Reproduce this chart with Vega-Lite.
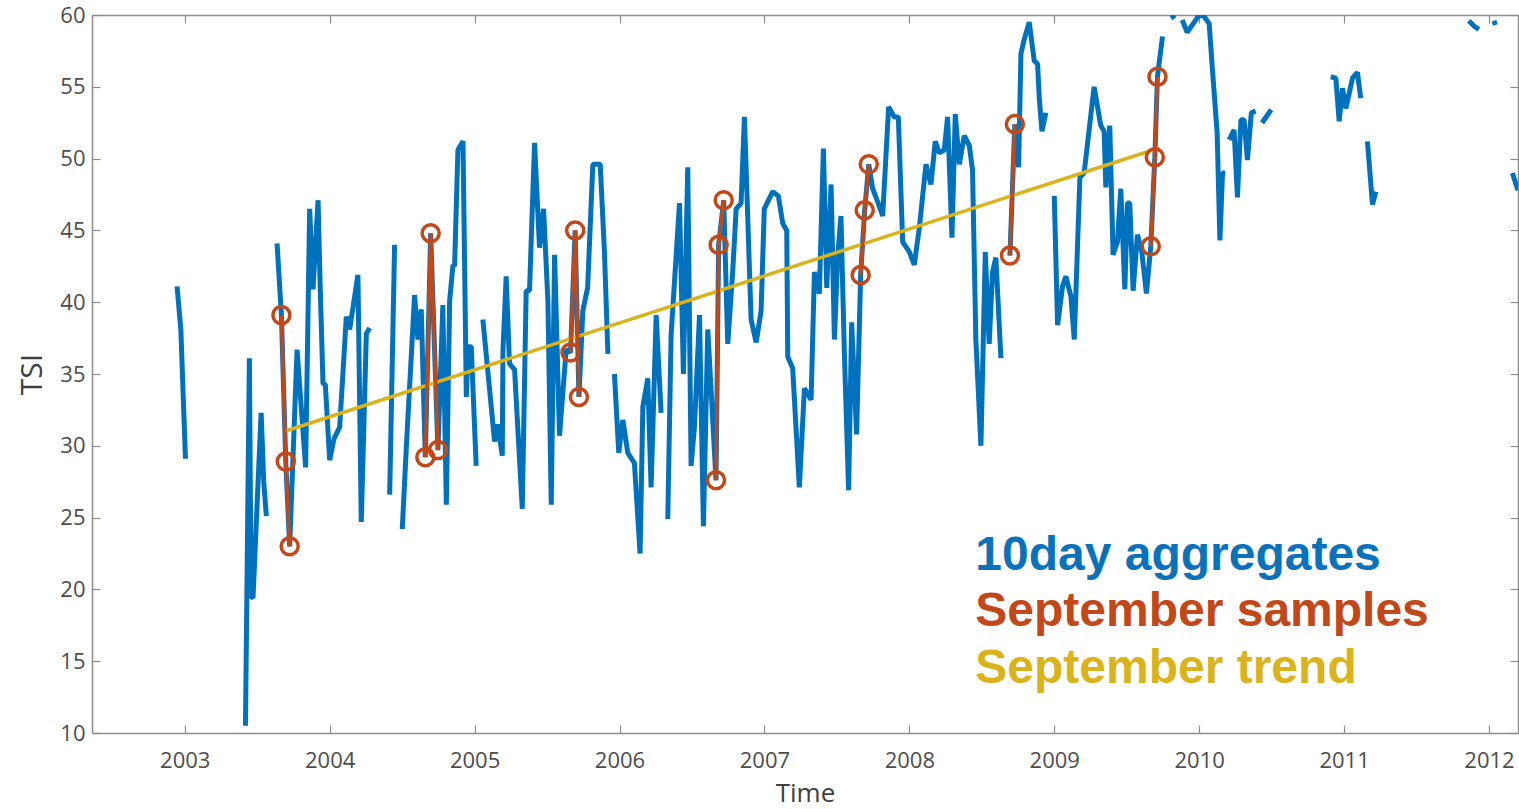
{
  "$schema": "https://vega.github.io/schema/vega-lite/v6.json",
  "width": 1426,
  "height": 718,
  "autosize": {"type": "none"},
  "padding": {"left": 92, "top": 15, "right": 1, "bottom": 76},
  "background": "white",
  "config": {
    "view": {"stroke": null},
    "axis": {
      "grid": false,
      "domainColor": "#8c8c8c",
      "domainWidth": 1.5,
      "tickColor": "#8c8c8c",
      "tickWidth": 1.2,
      "tickSize": -8,
      "labelFont": "Open Sans",
      "labelFontSize": 22,
      "labelColor": "#4d4d4d",
      "labelFlush": false,
      "labelOverlap": false,
      "titleFont": "Open Sans",
      "titleFontWeight": "normal",
      "titleColor": "#404040"
    }
  },
  "datasets": {
    "aggregates": [
      {"seg": 1, "t": 2002.947, "tsi": 41.1},
      {"seg": 1, "t": 2002.973, "tsi": 38.1},
      {"seg": 1, "t": 2003.005, "tsi": 29.1},

      {"seg": 2, "t": 2003.419, "tsi": 10.5},
      {"seg": 2, "t": 2003.446, "tsi": 36.1},
      {"seg": 2, "t": 2003.458, "tsi": 19.5},
      {"seg": 2, "t": 2003.471, "tsi": 19.4},
      {"seg": 2, "t": 2003.527, "tsi": 32.3},
      {"seg": 2, "t": 2003.545, "tsi": 27.5},
      {"seg": 2, "t": 2003.563, "tsi": 25.1},

      {"seg": 3, "t": 2003.637, "tsi": 44.1},
      {"seg": 3, "t": 2003.667, "tsi": 39.1},
      {"seg": 3, "t": 2003.697, "tsi": 28.9},
      {"seg": 3, "t": 2003.724, "tsi": 23.0},
      {"seg": 3, "t": 2003.775, "tsi": 36.7},
      {"seg": 3, "t": 2003.834, "tsi": 28.5},
      {"seg": 3, "t": 2003.862, "tsi": 46.5},
      {"seg": 3, "t": 2003.885, "tsi": 40.9},
      {"seg": 3, "t": 2003.92, "tsi": 47.1},
      {"seg": 3, "t": 2003.935, "tsi": 40.9},
      {"seg": 3, "t": 2003.954, "tsi": 34.3},
      {"seg": 3, "t": 2003.97, "tsi": 34.3},
      {"seg": 3, "t": 2004.0, "tsi": 29.0},
      {"seg": 3, "t": 2004.03, "tsi": 30.5},
      {"seg": 3, "t": 2004.069, "tsi": 31.3},
      {"seg": 3, "t": 2004.115, "tsi": 39.0},
      {"seg": 3, "t": 2004.138, "tsi": 38.1},
      {"seg": 3, "t": 2004.195, "tsi": 41.9},
      {"seg": 3, "t": 2004.218, "tsi": 24.7},
      {"seg": 3, "t": 2004.253, "tsi": 37.8},
      {"seg": 3, "t": 2004.276, "tsi": 38.2},

      {"seg": 4, "t": 2004.414, "tsi": 26.6},
      {"seg": 4, "t": 2004.448, "tsi": 44.0},

      {"seg": 5, "t": 2004.501, "tsi": 24.2},
      {"seg": 5, "t": 2004.529, "tsi": 29.9},
      {"seg": 5, "t": 2004.586, "tsi": 40.5},
      {"seg": 5, "t": 2004.609, "tsi": 37.4},
      {"seg": 5, "t": 2004.632, "tsi": 39.5},
      {"seg": 5, "t": 2004.66, "tsi": 29.2},
      {"seg": 5, "t": 2004.697, "tsi": 44.8},
      {"seg": 5, "t": 2004.747, "tsi": 29.7},
      {"seg": 5, "t": 2004.781, "tsi": 39.8},
      {"seg": 5, "t": 2004.805, "tsi": 25.9},
      {"seg": 5, "t": 2004.828, "tsi": 40.1},
      {"seg": 5, "t": 2004.851, "tsi": 42.6},
      {"seg": 5, "t": 2004.862, "tsi": 42.5},
      {"seg": 5, "t": 2004.885, "tsi": 50.6},
      {"seg": 5, "t": 2004.92, "tsi": 51.2},
      {"seg": 5, "t": 2004.943, "tsi": 33.4},
      {"seg": 5, "t": 2004.955, "tsi": 36.9},
      {"seg": 5, "t": 2004.977, "tsi": 36.9},
      {"seg": 5, "t": 2005.011, "tsi": 28.6},

      {"seg": 6, "t": 2005.057, "tsi": 38.8},
      {"seg": 6, "t": 2005.138, "tsi": 30.3},
      {"seg": 6, "t": 2005.16, "tsi": 31.5},
      {"seg": 6, "t": 2005.191, "tsi": 29.3},
      {"seg": 6, "t": 2005.196, "tsi": 36.7},
      {"seg": 6, "t": 2005.218, "tsi": 41.8},
      {"seg": 6, "t": 2005.241, "tsi": 35.7},
      {"seg": 6, "t": 2005.276, "tsi": 35.3},
      {"seg": 6, "t": 2005.329, "tsi": 25.6},
      {"seg": 6, "t": 2005.356, "tsi": 40.8},
      {"seg": 6, "t": 2005.379, "tsi": 40.8},
      {"seg": 6, "t": 2005.414, "tsi": 51.1},
      {"seg": 6, "t": 2005.448, "tsi": 43.8},
      {"seg": 6, "t": 2005.476, "tsi": 46.5},
      {"seg": 6, "t": 2005.506, "tsi": 40.1},
      {"seg": 6, "t": 2005.529, "tsi": 25.9},
      {"seg": 6, "t": 2005.552, "tsi": 43.3},
      {"seg": 6, "t": 2005.586, "tsi": 30.7},
      {"seg": 6, "t": 2005.632, "tsi": 36.7},
      {"seg": 6, "t": 2005.662, "tsi": 36.5},
      {"seg": 6, "t": 2005.694, "tsi": 45.0},
      {"seg": 6, "t": 2005.72, "tsi": 33.4},
      {"seg": 6, "t": 2005.747, "tsi": 39.4},
      {"seg": 6, "t": 2005.78, "tsi": 41.0},
      {"seg": 6, "t": 2005.816, "tsi": 49.6},
      {"seg": 6, "t": 2005.867, "tsi": 49.6},
      {"seg": 6, "t": 2005.896, "tsi": 43.5},
      {"seg": 6, "t": 2005.92, "tsi": 36.4},

      {"seg": 7, "t": 2005.965, "tsi": 35.0},
      {"seg": 7, "t": 2005.995, "tsi": 29.5},
      {"seg": 7, "t": 2006.023, "tsi": 31.8},
      {"seg": 7, "t": 2006.057, "tsi": 29.5},
      {"seg": 7, "t": 2006.103, "tsi": 28.8},
      {"seg": 7, "t": 2006.142, "tsi": 22.5},
      {"seg": 7, "t": 2006.161, "tsi": 32.7},
      {"seg": 7, "t": 2006.195, "tsi": 34.7},
      {"seg": 7, "t": 2006.218, "tsi": 27.1},
      {"seg": 7, "t": 2006.253, "tsi": 39.1},
      {"seg": 7, "t": 2006.287, "tsi": 32.3},

      {"seg": 8, "t": 2006.333, "tsi": 24.9},
      {"seg": 8, "t": 2006.356, "tsi": 37.7},
      {"seg": 8, "t": 2006.414, "tsi": 46.9},
      {"seg": 8, "t": 2006.441, "tsi": 35.0},
      {"seg": 8, "t": 2006.471, "tsi": 49.4},
      {"seg": 8, "t": 2006.494, "tsi": 28.6},
      {"seg": 8, "t": 2006.517, "tsi": 31.3},
      {"seg": 8, "t": 2006.552, "tsi": 39.1},
      {"seg": 8, "t": 2006.579, "tsi": 24.4},
      {"seg": 8, "t": 2006.609, "tsi": 38.1},
      {"seg": 8, "t": 2006.666, "tsi": 27.6},
      {"seg": 8, "t": 2006.684, "tsi": 44.0},
      {"seg": 8, "t": 2006.719, "tsi": 47.1},
      {"seg": 8, "t": 2006.747, "tsi": 37.1},
      {"seg": 8, "t": 2006.781, "tsi": 42.1},
      {"seg": 8, "t": 2006.805, "tsi": 46.5},
      {"seg": 8, "t": 2006.839, "tsi": 46.9},
      {"seg": 8, "t": 2006.862, "tsi": 52.9},
      {"seg": 8, "t": 2006.908, "tsi": 38.8},
      {"seg": 8, "t": 2006.943, "tsi": 37.2},
      {"seg": 8, "t": 2006.977, "tsi": 39.4},
      {"seg": 8, "t": 2006.999, "tsi": 46.5},
      {"seg": 8, "t": 2007.057, "tsi": 47.7},
      {"seg": 8, "t": 2007.096, "tsi": 47.4},
      {"seg": 8, "t": 2007.126, "tsi": 45.5},
      {"seg": 8, "t": 2007.154, "tsi": 45.0},
      {"seg": 8, "t": 2007.161, "tsi": 36.2},
      {"seg": 8, "t": 2007.195, "tsi": 35.4},
      {"seg": 8, "t": 2007.241, "tsi": 27.1},
      {"seg": 8, "t": 2007.276, "tsi": 34.0},
      {"seg": 8, "t": 2007.322, "tsi": 33.2},
      {"seg": 8, "t": 2007.345, "tsi": 42.1},
      {"seg": 8, "t": 2007.379, "tsi": 40.6},
      {"seg": 8, "t": 2007.407, "tsi": 50.7},
      {"seg": 8, "t": 2007.43, "tsi": 41.0},
      {"seg": 8, "t": 2007.46, "tsi": 48.2},
      {"seg": 8, "t": 2007.483, "tsi": 37.4},
      {"seg": 8, "t": 2007.505, "tsi": 43.1},
      {"seg": 8, "t": 2007.528, "tsi": 46.0},
      {"seg": 8, "t": 2007.551, "tsi": 36.7},
      {"seg": 8, "t": 2007.581, "tsi": 26.9},
      {"seg": 8, "t": 2007.602, "tsi": 38.6},
      {"seg": 8, "t": 2007.636, "tsi": 30.8},
      {"seg": 8, "t": 2007.664, "tsi": 41.9},
      {"seg": 8, "t": 2007.692, "tsi": 46.4},
      {"seg": 8, "t": 2007.72, "tsi": 49.6},
      {"seg": 8, "t": 2007.747, "tsi": 47.9},
      {"seg": 8, "t": 2007.781, "tsi": 47.0},
      {"seg": 8, "t": 2007.816, "tsi": 46.0},
      {"seg": 8, "t": 2007.857, "tsi": 53.6},
      {"seg": 8, "t": 2007.896, "tsi": 52.9},
      {"seg": 8, "t": 2007.924, "tsi": 52.9},
      {"seg": 8, "t": 2007.954, "tsi": 44.2},
      {"seg": 8, "t": 2008.0, "tsi": 43.5},
      {"seg": 8, "t": 2008.034, "tsi": 42.6},
      {"seg": 8, "t": 2008.069, "tsi": 45.2},
      {"seg": 8, "t": 2008.115, "tsi": 49.6},
      {"seg": 8, "t": 2008.149, "tsi": 48.2},
      {"seg": 8, "t": 2008.179, "tsi": 51.2},
      {"seg": 8, "t": 2008.207, "tsi": 50.4},
      {"seg": 8, "t": 2008.241, "tsi": 50.6},
      {"seg": 8, "t": 2008.264, "tsi": 52.9},
      {"seg": 8, "t": 2008.294, "tsi": 44.5},
      {"seg": 8, "t": 2008.317, "tsi": 53.1},
      {"seg": 8, "t": 2008.345, "tsi": 49.6},
      {"seg": 8, "t": 2008.379, "tsi": 51.6},
      {"seg": 8, "t": 2008.414, "tsi": 50.9},
      {"seg": 8, "t": 2008.436, "tsi": 49.2},
      {"seg": 8, "t": 2008.459, "tsi": 37.4},
      {"seg": 8, "t": 2008.494, "tsi": 30.0},
      {"seg": 8, "t": 2008.524, "tsi": 43.5},
      {"seg": 8, "t": 2008.551, "tsi": 37.1},
      {"seg": 8, "t": 2008.574, "tsi": 42.1},
      {"seg": 8, "t": 2008.597, "tsi": 43.1},
      {"seg": 8, "t": 2008.632, "tsi": 36.1},

      {"seg": 10, "t": 2008.694, "tsi": 43.25},
      {"seg": 10, "t": 2008.728, "tsi": 52.4},
      {"seg": 10, "t": 2008.754, "tsi": 49.4},
      {"seg": 10, "t": 2008.77, "tsi": 57.3},
      {"seg": 10, "t": 2008.793, "tsi": 58.3},
      {"seg": 10, "t": 2008.827, "tsi": 59.5},
      {"seg": 10, "t": 2008.862, "tsi": 56.8},
      {"seg": 10, "t": 2008.885, "tsi": 56.6},
      {"seg": 10, "t": 2008.896, "tsi": 54.3},
      {"seg": 10, "t": 2008.915, "tsi": 51.9},
      {"seg": 10, "t": 2008.942, "tsi": 53.2},

      {"seg": 11, "t": 2009.0, "tsi": 47.4},
      {"seg": 11, "t": 2009.023, "tsi": 38.4},
      {"seg": 11, "t": 2009.057, "tsi": 41.1},
      {"seg": 11, "t": 2009.08, "tsi": 41.8},
      {"seg": 11, "t": 2009.115, "tsi": 40.4},
      {"seg": 11, "t": 2009.138, "tsi": 37.4},
      {"seg": 11, "t": 2009.177, "tsi": 48.7},
      {"seg": 11, "t": 2009.206, "tsi": 49.0},
      {"seg": 11, "t": 2009.275, "tsi": 55.0},
      {"seg": 11, "t": 2009.321, "tsi": 52.3},
      {"seg": 11, "t": 2009.344, "tsi": 51.9},
      {"seg": 11, "t": 2009.356, "tsi": 48.0},
      {"seg": 11, "t": 2009.383, "tsi": 52.3},
      {"seg": 11, "t": 2009.406, "tsi": 43.3},
      {"seg": 11, "t": 2009.436, "tsi": 44.2},
      {"seg": 11, "t": 2009.459, "tsi": 47.9},
      {"seg": 11, "t": 2009.487, "tsi": 40.9},
      {"seg": 11, "t": 2009.505, "tsi": 46.9},
      {"seg": 11, "t": 2009.521, "tsi": 46.9},
      {"seg": 11, "t": 2009.544, "tsi": 40.8},
      {"seg": 11, "t": 2009.574, "tsi": 44.7},
      {"seg": 11, "t": 2009.604, "tsi": 43.5},
      {"seg": 11, "t": 2009.636, "tsi": 40.6},
      {"seg": 11, "t": 2009.666, "tsi": 43.9},
      {"seg": 11, "t": 2009.694, "tsi": 50.1},
      {"seg": 11, "t": 2009.712, "tsi": 55.7},
      {"seg": 11, "t": 2009.747, "tsi": 58.5},

      {"seg": 19, "t": 2009.81, "tsi": 60.0},
      {"seg": 19, "t": 2009.83, "tsi": 59.75},

      {"seg": 20, "t": 2009.883, "tsi": 59.65},
      {"seg": 20, "t": 2009.917, "tsi": 58.8},
      {"seg": 20, "t": 2009.966, "tsi": 59.5},
      {"seg": 20, "t": 2010.0, "tsi": 60.0},
      {"seg": 20, "t": 2010.034, "tsi": 59.9},
      {"seg": 20, "t": 2010.069, "tsi": 59.4},
      {"seg": 20, "t": 2010.09, "tsi": 56.4},
      {"seg": 20, "t": 2010.124, "tsi": 51.8},
      {"seg": 20, "t": 2010.143, "tsi": 44.3},
      {"seg": 20, "t": 2010.161, "tsi": 49.0},
      {"seg": 20, "t": 2010.18, "tsi": 49.0},

      {"seg": 12, "t": 2010.207, "tsi": 51.3},
      {"seg": 12, "t": 2010.241, "tsi": 52.0},
      {"seg": 12, "t": 2010.264, "tsi": 47.3},
      {"seg": 12, "t": 2010.288, "tsi": 52.7},
      {"seg": 12, "t": 2010.31, "tsi": 52.7},
      {"seg": 12, "t": 2010.333, "tsi": 49.9},
      {"seg": 12, "t": 2010.36, "tsi": 53.2},
      {"seg": 12, "t": 2010.39, "tsi": 53.3},

      {"seg": 13, "t": 2010.434, "tsi": 52.5},
      {"seg": 13, "t": 2010.497, "tsi": 53.4},

      {"seg": 14, "t": 2010.908, "tsi": 55.7},
      {"seg": 14, "t": 2010.943, "tsi": 55.6},
      {"seg": 14, "t": 2010.966, "tsi": 52.6},
      {"seg": 14, "t": 2010.989, "tsi": 54.9},
      {"seg": 14, "t": 2011.012, "tsi": 53.5},
      {"seg": 14, "t": 2011.058, "tsi": 55.6},
      {"seg": 14, "t": 2011.092, "tsi": 56.0},
      {"seg": 14, "t": 2011.115, "tsi": 54.2},

      {"seg": 15, "t": 2011.161, "tsi": 51.2},
      {"seg": 15, "t": 2011.196, "tsi": 46.8},
      {"seg": 15, "t": 2011.219, "tsi": 47.7},

      {"seg": 16, "t": 2011.86, "tsi": 59.6},
      {"seg": 16, "t": 2011.9, "tsi": 59.2},
      {"seg": 16, "t": 2011.93, "tsi": 59.0},

      {"seg": 17, "t": 2012.034, "tsi": 59.6},
      {"seg": 17, "t": 2012.044, "tsi": 59.3},

      {"seg": 18, "t": 2012.161, "tsi": 49.0},
      {"seg": 18, "t": 2012.2, "tsi": 47.8}
    ],
    "september": [
      {"yr": 2003, "t": 2003.667, "tsi": 39.1},
      {"yr": 2003, "t": 2003.697, "tsi": 28.9},
      {"yr": 2003, "t": 2003.724, "tsi": 23.0},
      {"yr": 2004, "t": 2004.66, "tsi": 29.2},
      {"yr": 2004, "t": 2004.697, "tsi": 44.8},
      {"yr": 2004, "t": 2004.747, "tsi": 29.7},
      {"yr": 2005, "t": 2005.662, "tsi": 36.5},
      {"yr": 2005, "t": 2005.694, "tsi": 45.0},
      {"yr": 2005, "t": 2005.72, "tsi": 33.4},
      {"yr": 2006, "t": 2006.666, "tsi": 27.6},
      {"yr": 2006, "t": 2006.684, "tsi": 44.0},
      {"yr": 2006, "t": 2006.719, "tsi": 47.1},
      {"yr": 2007, "t": 2007.664, "tsi": 41.9},
      {"yr": 2007, "t": 2007.692, "tsi": 46.4},
      {"yr": 2007, "t": 2007.72, "tsi": 49.6},
      {"yr": 2008, "t": 2008.694, "tsi": 43.25},
      {"yr": 2008, "t": 2008.728, "tsi": 52.4},
      {"yr": 2009, "t": 2009.666, "tsi": 43.9},
      {"yr": 2009, "t": 2009.694, "tsi": 50.1},
      {"yr": 2009, "t": 2009.712, "tsi": 55.7}
    ],
    "trend": [
      {"t": 2003.676, "tsi": 30.96},
      {"t": 2009.724, "tsi": 50.74}
    ],
    "notes": [
      {"series": "agg", "label": "10day aggregates", "t": 2008.455, "tsi": 21.35},
      {"series": "sep", "label": "September samples", "t": 2008.455, "tsi": 17.45},
      {"series": "trend", "label": "September trend", "t": 2008.455, "tsi": 13.46}
    ]
  },
  "layer": [
    {
      "data": {"name": "aggregates"},
      "mark": {"type": "line", "color": "#0072BD", "strokeWidth": 5, "strokeJoin": "bevel", "clip": true},
      "encoding": {
        "x": {
          "field": "t", "type": "quantitative",
          "scale": {"domain": [2002.36, 2012.2], "nice": false, "zero": false},
          "axis": {"orient": "bottom", "values": [2003, 2004, 2005, 2006, 2007, 2008, 2009, 2010, 2011, 2012], "format": "d", "labelPadding": 25, "title": "Time", "titleFontSize": 26, "titlePadding": 9}
        },
        "y": {
          "field": "tsi", "type": "quantitative",
          "scale": {"domain": [10, 60], "nice": false, "zero": false},
          "axis": {"orient": "left", "values": [10, 15, 20, 25, 30, 35, 40, 45, 50, 55, 60], "labelPadding": 15, "title": "TSI", "titleFontSize": 30, "titlePadding": 12}
        },
        "detail": {"field": "seg", "type": "nominal"}
      }
    },
    {
      "data": {"name": "trend"},
      "mark": {"type": "line", "color": "#D9B31C", "strokeWidth": 3.5},
      "encoding": {
        "x": {"field": "t", "type": "quantitative", "axis": {"orient": "top", "values": [2003, 2004, 2005, 2006, 2007, 2008, 2009, 2010, 2011, 2012], "labels": false, "title": null}},
        "y": {"field": "tsi", "type": "quantitative", "axis": {"orient": "right", "values": [10, 15, 20, 25, 30, 35, 40, 45, 50, 55, 60], "labels": false, "title": null}}
      }
    },
    {
      "data": {"name": "september"},
      "mark": {"type": "line", "color": "#C2481A", "strokeWidth": 3.5},
      "encoding": {
        "x": {"field": "t", "type": "quantitative", "axis": null},
        "y": {"field": "tsi", "type": "quantitative", "axis": null},
        "detail": {"field": "yr", "type": "nominal"}
      }
    },
    {
      "data": {"name": "september"},
      "mark": {"type": "point", "shape": "circle", "filled": false, "size": 290, "strokeWidth": 3.5, "color": "#C2481A", "opacity": 1},
      "encoding": {
        "x": {"field": "t", "type": "quantitative", "axis": null},
        "y": {"field": "tsi", "type": "quantitative", "axis": null}
      }
    },
    {
      "data": {"name": "notes"},
      "mark": {"type": "text", "align": "left", "baseline": "alphabetic", "font": "Liberation Sans", "fontWeight": "bold", "fontSize": 48},
      "encoding": {
        "x": {"field": "t", "type": "quantitative", "axis": null},
        "y": {"field": "tsi", "type": "quantitative", "axis": null},
        "text": {"field": "label"},
        "color": {"field": "series", "type": "nominal", "scale": {"domain": ["agg", "sep", "trend"], "range": ["#0A72BA", "#C2481A", "#DAB31A"]}, "legend": null}
      }
    }
  ],
  "resolve": {"axis": {"x": "independent", "y": "independent"}}
}
